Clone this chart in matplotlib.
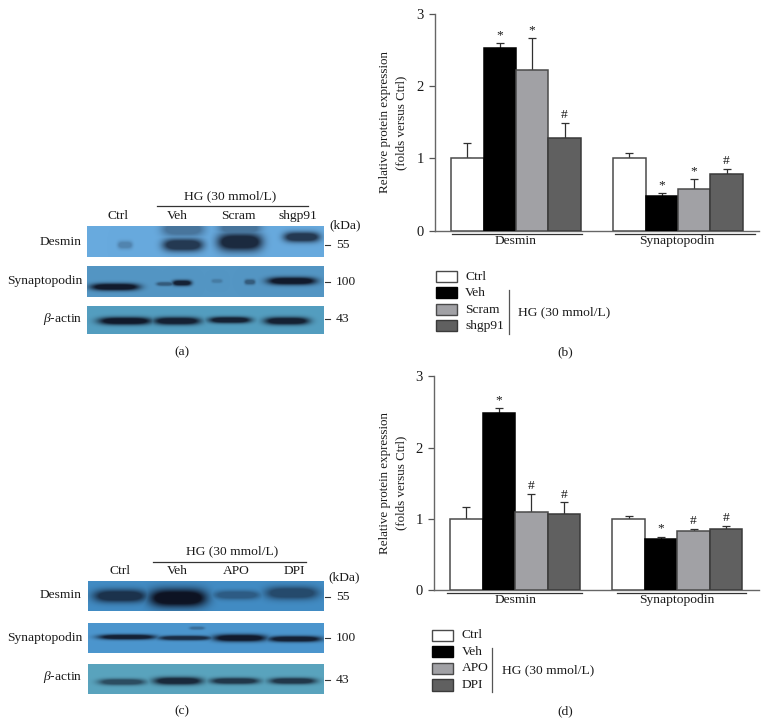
import numpy as np
import matplotlib
matplotlib.use('Agg')
import matplotlib.pyplot as plt
from matplotlib.patches import Rectangle

W, H = 767, 725
plt.rcParams['font.family'] = ['Liberation Serif', 'DejaVu Serif']
plt.rcParams['mathtext.fontset'] = 'custom'
plt.rcParams['mathtext.it'] = 'Liberation Serif:italic'
plt.rcParams['mathtext.rm'] = 'Liberation Serif'

groups = ['Desmin', 'Synaptopodin']
legend_b = ['Ctrl', 'Veh', 'Scram', 'shgp91']
legend_d = ['Ctrl', 'Veh', 'APO', 'DPI']
yticks = [0, 1, 2, 3]

# wartosci (b) i (d)
values_b = [1.00, 2.53, 2.22, 1.29, 1.00, 0.48, 0.58, 0.78]
errors_b = [0.21, 0.07, 0.45, 0.20, 0.07, 0.04, 0.14, 0.08]
marks_b = ['', '*', '*', '#', '', '*', '*', '#']

values_d = [1.00, 2.48, 1.10, 1.06, 1.00, 0.71, 0.83, 0.86]
errors_d = [0.17, 0.08, 0.25, 0.17, 0.04, 0.04, 0.03, 0.04]
marks_d = ['', '*', '#', '#', '', '*', '#', '#']

bar_colors = ['white', 'black', '#a1a1a5', '#606060']
bar_edges = ['#4a4a4a', 'black', '#4a4a4a', '#3a3a3a']
x_pos = [1, 2, 3, 4, 6, 7, 8, 9]

# prazki blotow: srodek x, srodek y, polszerokosc, sigma y, ciemnosc (piksele)
bands_a_des = [(125, 245, 7, 3, .25), (183, 245, 19, 5, .75), (183, 229, 20, 6, .35),
               (240, 242, 21, 7, .85), (240, 228, 20, 6, .35), (302, 237, 17, 4, .75)]
bands_a_syn = [(115, 287, 23, 2.8, .95), (165, 284, 8, 1.5, .45), (182, 283, 9, 2.2, .9),
               (217, 281, 5, 1.5, .2), (250, 282, 5, 2, .45), (292, 281, 23, 3, .95)]
bands_a_act = [(125, 321, 25, 3, .95), (177, 321, 22, 3, .9), (230, 320, 20, 2.5, .9),
               (287, 321, 21, 3, .9)]
bands_c_des = [(120, 596, 25, 5, .75), (178, 598, 27, 7, 1.0), (237, 595, 22, 3.5, .4),
               (292, 593, 25, 5, .55)]
bands_c_syn = [(127, 637, 27, 2, .9), (185, 638, 25, 1.8, .8), (197, 628, 7, 1.2, .3),
               (240, 638, 25, 2.8, .95), (295, 639, 25, 2.3, .9)]
bands_c_act = [(122, 682, 22, 2.5, .6), (178, 681, 23, 3, .85), (235, 681, 23, 2.5, .75),
               (293, 681, 22, 2.5, .75)]


def draw_blot(ax, x0, x1, y0, y1, bg, bands):
    """Rysuje jeden pasek blotu jako obraz"""
    xs = np.linspace(x0, x1, (x1 - x0) * 3)
    ys = np.linspace(y0, y1, (y1 - y0) * 3)
    X, Y = np.meshgrid(xs, ys)
    dark = np.zeros_like(X)
    for cx, cy, hw, sy, d in bands:
        prof = np.exp(-(np.abs(X - cx) / (hw * 1.05)) ** 4 - ((Y - cy) / (sy * 1.25)) ** 2)
        dark = np.maximum(dark, d * np.clip(prof * 1.5, 0, 1))
    base = np.array(bg) / 255
    ink = np.array([14, 20, 36]) / 255
    img = base[None, None, :] * (1 - dark[..., None]) + ink[None, None, :] * dark[..., None]
    ax.imshow(img, extent=(x0, x1, y1, y0), aspect='auto', interpolation='bilinear', zorder=1)


def txt(ax, x, y, s, ha='center', size=9.7):
    ax.text(x, y, s, ha=ha, va='center', fontsize=size, color='#1a1a1a')


def draw_bars(fig, left, right, top, bottom, values, errors, marks):
    """Wykres slupkowy; pozycje osi podane w pikselach"""
    ax = fig.add_axes([left / W, 1 - bottom / H, (right - left) / W, (bottom - top) / H])
    ax.patch.set_alpha(0)
    for i in range(8):
        c = i % 4
        ax.bar(x_pos[i], values[i], width=1, color=bar_colors[c], edgecolor=bar_edges[c],
               linewidth=1.1, zorder=3)
        ax.errorbar(x_pos[i], values[i], yerr=[[0], [errors[i]]], color='#303030',
                    elinewidth=0.9, capsize=2.9, capthick=0.9, zorder=2)
        if marks[i]:
            ax.annotate(marks[i], (x_pos[i], values[i] + errors[i]), xytext=(0, 5.6),
                        textcoords='offset points', ha='center', va='center',
                        fontsize=9.7, color='#1a1a1a')
    ax.set_xlim(0, 10)
    ax.set_ylim(0, 3)
    ax.set_xticks([])
    ax.set_yticks(yticks)
    ax.tick_params(axis='y', length=4.5, width=0.9, color='#555555', labelsize=10.5,
                   labelcolor='#1a1a1a', pad=3.5)
    for s in ['top', 'right']:
        ax.spines[s].set_visible(False)
    for s in ['left', 'bottom']:
        ax.spines[s].set_color('#666666')
        ax.spines[s].set_linewidth(1.0)
    ax.set_ylabel('Relative protein expression\n(folds versus Ctrl)', fontsize=9.4,
                  color='#1a1a1a', linespacing=1.45)
    ax.yaxis.set_label_coords((393 - left) / (right - left), 0.5)
    ax.yaxis.label.set_va('center')
    return ax


def draw_legend(ax, x0, ys, names, hw):
    for y, name, fc, ec in zip(ys, names, bar_colors, bar_edges):
        ax.add_patch(Rectangle((x0, y - 5.7), 21, 11.4, facecolor=fc, edgecolor=ec,
                               linewidth=1.0, zorder=2))
        txt(ax, x0 + 29.5, y, name, ha='left', size=hw)


fig = plt.figure(figsize=(W / 100, H / 100), dpi=100)
over = fig.add_axes([0, 0, 1, 1])
over.set_axis_off()

# panel (a)
draw_blot(over, 87, 324, 226, 257, (104, 170, 222), bands_a_des)
draw_blot(over, 87, 324, 266, 297, (84, 150, 196), bands_a_syn)
draw_blot(over, 87, 324, 306, 334, (84, 158, 192), bands_a_act)
txt(over, 230, 196, 'HG (30 mmol/L)')
over.plot([157, 308], [205.7, 205.7], color='#333333', lw=0.9)
for x, s in zip([118, 177, 238, 298], legend_b):
    txt(over, x, 216, s)
txt(over, 345, 225, '(kDa)')
for y, s in zip([242, 281, 319], ['Desmin', 'Synaptopodin', r'$\mathit{\beta}$-actin']):
    txt(over, 82, y, s, ha='right')
for y, s in zip([245, 282, 319], ['55', '100', '43']):
    over.plot([325, 330], [y, y], color='#333333', lw=0.8)
    txt(over, 336, y, s, ha='left')
txt(over, 182, 352, '(a)')

# panel (c)
draw_blot(over, 88, 324, 581, 611, (66, 140, 196), bands_c_des)
draw_blot(over, 88, 324, 623, 653, (76, 150, 206), bands_c_syn)
draw_blot(over, 88, 324, 664, 694, (90, 164, 190), bands_c_act)
txt(over, 232, 551, 'HG (30 mmol/L)')
over.plot([153, 306], [562, 562], color='#333333', lw=0.9)
for x, s in zip([120, 177, 236, 294], legend_d):
    txt(over, x, 571, s)
txt(over, 344, 577, '(kDa)')
for y, s in zip([595, 638, 677], ['Desmin', 'Synaptopodin', r'$\mathit{\beta}$-actin']):
    txt(over, 82, y, s, ha='right')
for y, s in zip([597, 638, 680], ['55', '100', '43']):
    over.plot([325, 330], [y, y], color='#333333', lw=0.8)
    txt(over, 336, y, s, ha='left')
txt(over, 182, 711, '(c)')

# panel (b): podpisy i legenda
over.plot([451.7, 582], [234, 234], color='#333333', lw=0.9)
over.plot([615, 755], [234, 234], color='#333333', lw=0.9)
txt(over, 516, 241, groups[0])
txt(over, 677, 241, groups[1])
draw_legend(over, 435.7, [276.7, 292.5, 309.5, 325.7], legend_b, 9.7)
over.plot([508.7, 508.7], [290, 334], color='#555555', lw=0.9)
txt(over, 517.7, 312, 'HG (30 mmol/L)', ha='left')
txt(over, 565, 352, '(b)')

# panel (d): podpisy i legenda
over.plot([446.7, 582], [592.7, 592.7], color='#333333', lw=0.9)
over.plot([616.7, 746], [592.7, 592.7], color='#333333', lw=0.9)
txt(over, 516, 600, groups[0])
txt(over, 677, 600, groups[1])
draw_legend(over, 432, [635.3, 651.7, 668.3, 685], legend_d, 9.7)
over.plot([492.3, 492.3], [647.7, 691.7], color='#555555', lw=0.9)
txt(over, 501.7, 670.7, 'HG (30 mmol/L)', ha='left')
txt(over, 565, 711.7, '(d)')

over.set_xlim(0, W)
over.set_ylim(H, 0)

draw_bars(fig, 435, 759, 14, 230.7, values_b, errors_b, marks_b)
draw_bars(fig, 434, 758.5, 376.3, 590, values_d, errors_d, marks_d)

fig.savefig('out.png', dpi=100)
